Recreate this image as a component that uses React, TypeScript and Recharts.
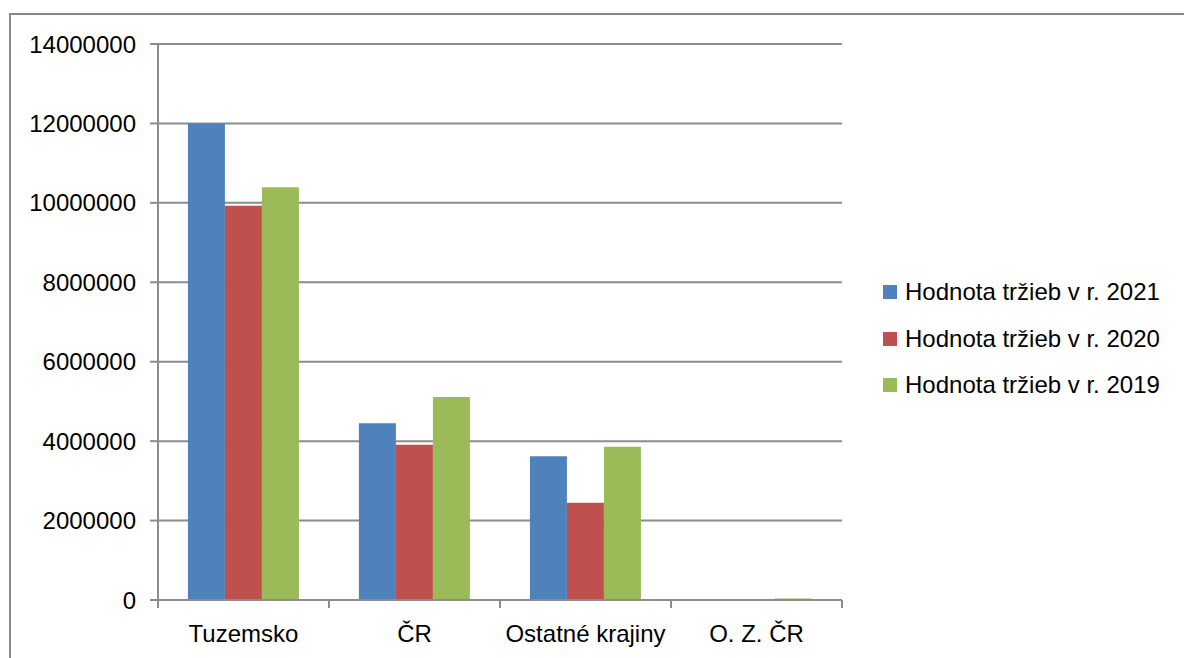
import React from 'react';
import { BarChart, Bar, XAxis, YAxis, CartesianGrid, Legend } from 'recharts';

const categories = ['Tuzemsko', 'ČR', 'Ostatné krajiny', 'O. Z. ČR'];
const sales2021 = [12000000, 4450000, 3620000, 0];
const sales2020 = [9930000, 3910000, 2450000, 0];
const sales2019 = [10390000, 5110000, 3860000, 40000];
const yTicks = [0, 2000000, 4000000, 6000000, 8000000, 10000000, 12000000, 14000000];
const seriesNames = ['Hodnota tržieb v r. 2021', 'Hodnota tržieb v r. 2020', 'Hodnota tržieb v r. 2019'];

const data = categories.map((c, i) => ({
  name: c,
  s2021: sales2021[i],
  s2020: sales2020[i],
  s2019: sales2019[i],
}));

const W = 1184;
const H = 658;
const M = { top: 44, right: 342, bottom: 18, left: 8 };
const Y_W = 150;
const X_H = 40;
const PLOT_W = W - M.left - M.right - Y_W;
const BAND = PLOT_W / categories.length;
const FONT = '"Liberation Sans", Arial, sans-serif';
const FS = 24;
const AXIS_COLOR = '#8c8c8c';

const XTick = (props: any) => {
  const { x, y, payload, index } = props;
  return (
    <g>
      <line x1={x - BAND / 2} y1={y} x2={x - BAND / 2} y2={y + 8} stroke={AXIS_COLOR} strokeWidth={2} />
      {index === categories.length - 1 && (
        <line x1={x + BAND / 2} y1={y} x2={x + BAND / 2} y2={y + 8} stroke={AXIS_COLOR} strokeWidth={2} />
      )}
      <text x={x} y={y + 42} textAnchor="middle" fontSize={FS} fontFamily={FONT} fill="#000">
        {payload.value}
      </text>
    </g>
  );
};

const LegendContent = (props: any) => {
  const payload = [...(props.payload || [])].sort(
    (a: any, b: any) => seriesNames.indexOf(a.value) - seriesNames.indexOf(b.value)
  );
  return (
    <div style={{ fontFamily: FONT, fontSize: FS, color: '#000' }}>
      {payload.map((p: any, i: number) => (
        <div key={i} style={{ display: 'flex', alignItems: 'center', height: 46.5, whiteSpace: 'nowrap' }}>
          <span style={{ display: 'inline-block', width: 14, height: 14, background: p.color, marginRight: 8 }} />
          <span>{p.value}</span>
        </div>
      ))}
    </div>
  );
};

export default function App() {
  return (
    <div style={{ position: 'absolute', left: 0, top: 0, width: W, height: H, background: '#fff', overflow: 'hidden' }}>
      <div
        style={{
          position: 'absolute',
          left: 9,
          top: 13,
          width: W,
          height: H,
          borderLeft: '2px solid #888',
          borderTop: '2px solid #888',
          boxSizing: 'border-box',
        }}
      />
      <div style={{ position: 'absolute', left: 0, top: 0 }}>
        <BarChart
          width={W}
          height={H}
          data={data}
          margin={M}
          barCategoryGap="17.5%"
          barGap={0}
        >
          <CartesianGrid vertical={false} stroke={AXIS_COLOR} strokeWidth={2} />
          <XAxis
            dataKey="name"
            height={X_H}
            interval={0}
            tickLine={false}
            tickSize={0}
            tickMargin={0}
            axisLine={{ stroke: AXIS_COLOR, strokeWidth: 2 }}
            tick={<XTick />}
          />
          <YAxis
            width={Y_W}
            domain={[0, 14000000]}
            ticks={yTicks}
            interval={0}
            tickSize={8}
            tickMargin={14}
            tickLine={{ stroke: AXIS_COLOR, strokeWidth: 2 }}
            axisLine={{ stroke: AXIS_COLOR, strokeWidth: 2 }}
            tick={{ fontSize: FS, fontFamily: FONT, fill: '#000' }}
          />
          <Legend
            layout="vertical"
            align="center"
            verticalAlign="middle"
            content={<LegendContent />}
            wrapperStyle={{ left: 883, top: 269, width: 300 }}
          />
          <Bar dataKey="s2021" name={seriesNames[0]} fill="#4F81BD" isAnimationActive={false} />
          <Bar dataKey="s2020" name={seriesNames[1]} fill="#C0504D" isAnimationActive={false} />
          <Bar dataKey="s2019" name={seriesNames[2]} fill="#9BBB59" isAnimationActive={false} />
        </BarChart>
      </div>
    </div>
  );
}
